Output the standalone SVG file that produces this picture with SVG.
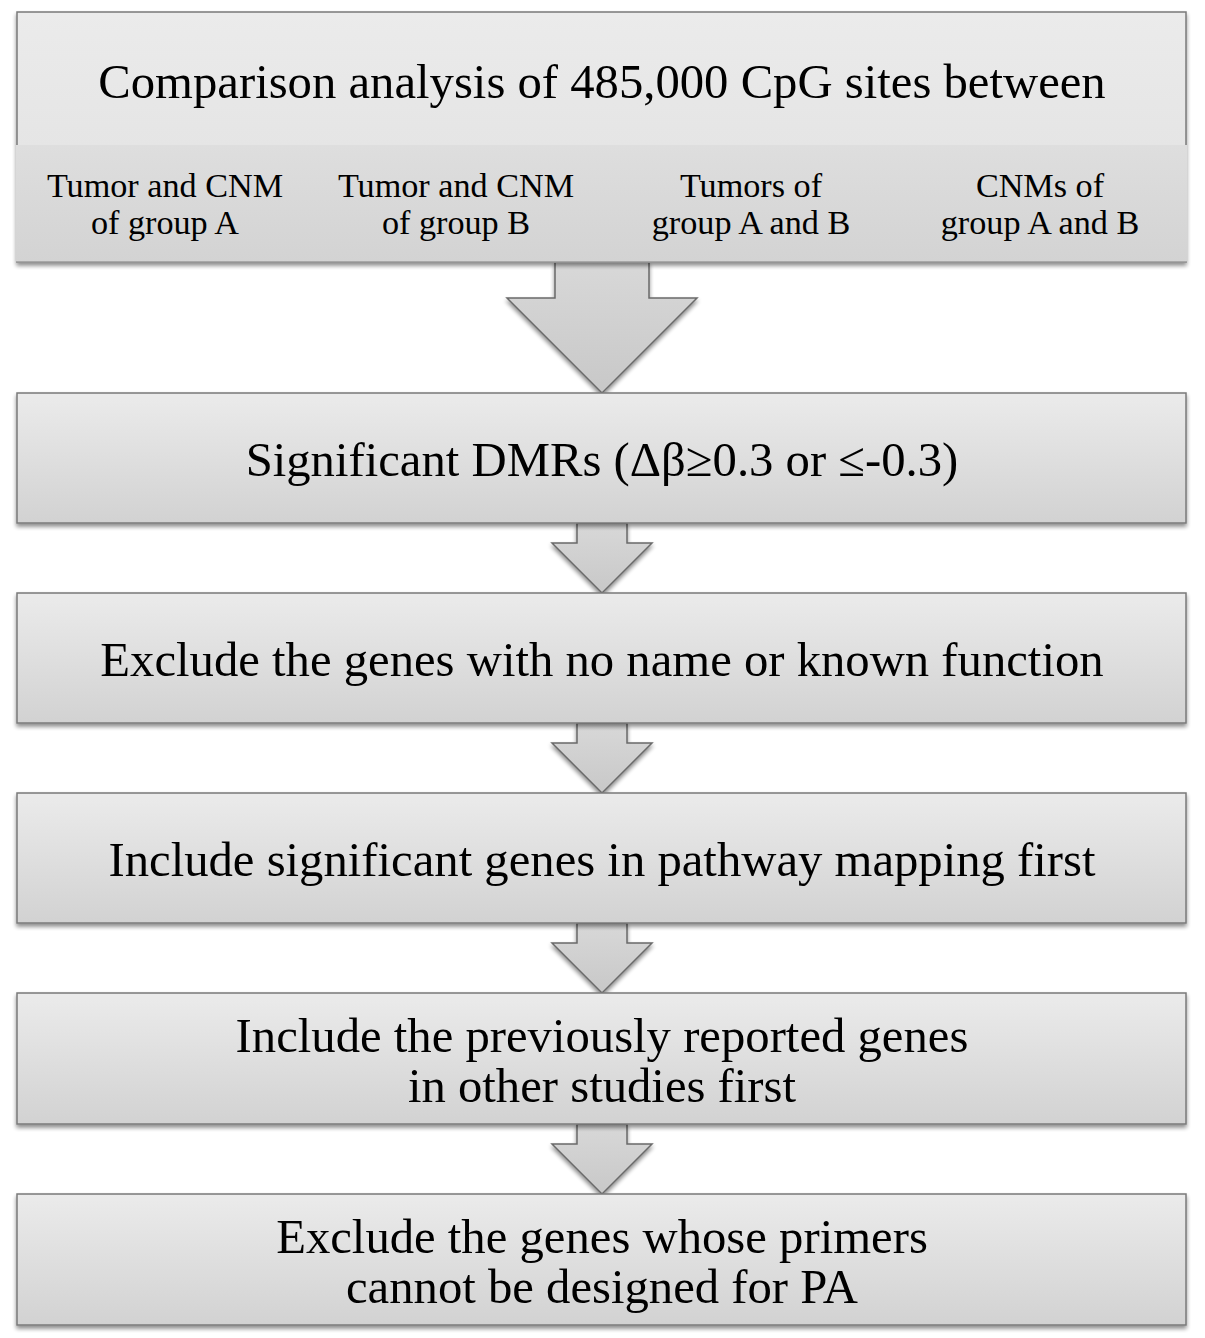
<svg xmlns="http://www.w3.org/2000/svg" width="1205" height="1338" viewBox="0 0 1205 1338">
<defs>
<linearGradient id="gBox" x1="0" y1="0" x2="0" y2="1">
<stop offset="0" stop-color="#ebebeb"/>
<stop offset="1" stop-color="#d2d2d2"/>
</linearGradient>
<linearGradient id="gTop" x1="0" y1="0" x2="0" y2="1">
<stop offset="0" stop-color="#ebebeb"/>
<stop offset="1" stop-color="#e0e0e0"/>
</linearGradient>
<linearGradient id="gBand" x1="0" y1="0" x2="0" y2="1">
<stop offset="0" stop-color="#dedede"/>
<stop offset="1" stop-color="#d3d3d3"/>
</linearGradient>
<linearGradient id="gArrow" x1="0" y1="0" x2="0" y2="1">
<stop offset="0" stop-color="#d8d8d8"/>
<stop offset="1" stop-color="#c8c8c8"/>
</linearGradient>
<filter id="sh" x="-5%" y="-10%" width="110%" height="130%">
<feGaussianBlur in="SourceAlpha" stdDeviation="2"/>
<feOffset dx="0" dy="3" result="b"/>
<feComponentTransfer><feFuncA type="linear" slope="0.45"/></feComponentTransfer>
<feMerge><feMergeNode/><feMergeNode in="SourceGraphic"/></feMerge>
</filter>
</defs>
<style>
.box{fill:url(#gBox);stroke:#7a7a7a;stroke-width:1.5}
.arr{fill:url(#gArrow);stroke:#6a6a6a;stroke-width:1.5;stroke-linejoin:miter}
.t{font-family:"Liberation Serif","Times New Roman",serif;font-size:48.7px;fill:#000;text-anchor:middle}
.s{font-family:"Liberation Serif","Times New Roman",serif;font-size:34.2px;fill:#000;text-anchor:middle}
</style>
<rect width="1205" height="1338" fill="#ffffff"/>

<g id="connectors">
<path class="arr" filter="url(#sh)" d="M555,262 L555,298 L507,298 L602,393 L697,298 L649,298 L649,262 Z"/>
<path class="arr" filter="url(#sh)" d="M577,523 L577,543 L552,543 L602,593 L652,543 L627,543 L627,523 Z"/>
<path class="arr" filter="url(#sh)" d="M577,723 L577,743 L552,743 L602,793 L652,743 L627,743 L627,723 Z"/>
<path class="arr" filter="url(#sh)" d="M577,923 L577,943 L552,943 L602,993 L652,943 L627,943 L627,923 Z"/>
<path class="arr" filter="url(#sh)" d="M577,1124 L577,1144 L552,1144 L602,1194 L652,1144 L627,1144 L627,1124 Z"/>
</g>

<g id="node1">
<rect x="17" y="12" width="1169" height="250" fill="url(#gTop)" stroke="#7a7a7a" stroke-width="1.5" filter="url(#sh)"/>
<rect x="16" y="145" width="1171" height="117" fill="url(#gBand)"/>
<line x1="16" y1="262" x2="1187" y2="262" stroke="#9a9a9a" stroke-width="1.5"/>
<text class="t" x="602" y="98">Comparison analysis of 485,000 CpG sites between</text>
<text class="s" x="165" y="197">Tumor and CNM</text>
<text class="s" x="165" y="234">of group A</text>
<text class="s" x="456" y="197">Tumor and CNM</text>
<text class="s" x="456" y="234">of group B</text>
<text class="s" x="751" y="197">Tumors of</text>
<text class="s" x="751" y="234">group A and B</text>
<text class="s" x="1040" y="197">CNMs of</text>
<text class="s" x="1040" y="234">group A and B</text>
</g>

<g id="node2">
<rect class="box" x="17" y="393" width="1169" height="130" filter="url(#sh)"/>
<text class="t" x="602" y="476">Significant DMRs (Δβ≥0.3 or ≤-0.3)</text>
</g>

<g id="node3">
<rect class="box" x="17" y="593" width="1169" height="130" filter="url(#sh)"/>
<text class="t" x="602" y="676">Exclude the genes with no name or known function</text>
</g>

<g id="node4">
<rect class="box" x="17" y="793" width="1169" height="130" filter="url(#sh)"/>
<text class="t" x="602" y="876">Include significant genes in pathway mapping first</text>
</g>

<g id="node5">
<rect class="box" x="17" y="993" width="1169" height="131" filter="url(#sh)"/>
<text class="t" x="602" y="1052">Include the previously reported genes</text>
<text class="t" x="602" y="1102">in other studies first</text>
</g>

<g id="node6">
<rect class="box" x="17" y="1194" width="1169" height="131" filter="url(#sh)"/>
<text class="t" x="602" y="1253">Exclude the genes whose primers</text>
<text class="t" x="602" y="1303">cannot be designed for PA</text>
</g>
</svg>
